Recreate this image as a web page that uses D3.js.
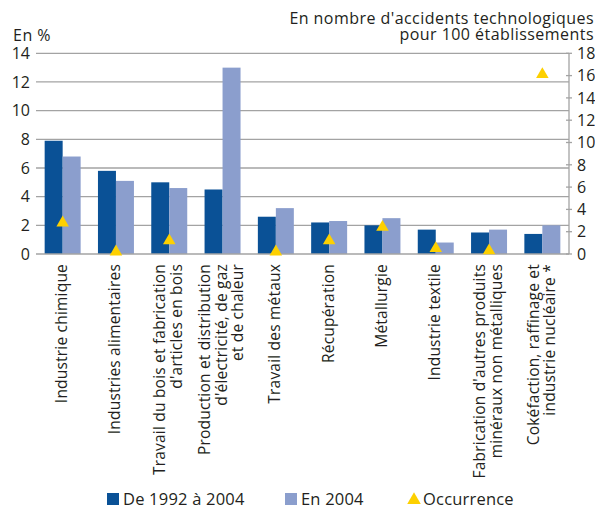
<!DOCTYPE html>
<html>
<head>
<meta charset="utf-8">
<script src="https://cdn.jsdelivr.net/npm/d3@7"></script>
<style>
  html, body { margin: 0; padding: 0; background: #fff; }
  svg text { font-family: "Open Sans", sans-serif; fill: #231f20; }
</style>
</head>
<body>
<div id="chart"></div>
<script>
// Catégories (retours à la ligne marqués par \n)
const categories = [
  "Industrie chimique",
  "Industries alimentaires",
  "Travail du bois et fabrication\nd'articles en bois",
  "Production et distribution\nd'électricité, de gaz\net de chaleur",
  "Travail des métaux",
  "Récupération",
  "Métallurgie",
  "Industrie textile",
  "Fabrication d'autres produits\nminéraux non métalliques",
  "Cokéfaction, raffinage et\nindustrie nucléaire *"
];
const part1992_2004 = [7.9, 5.8, 5.0, 4.5, 2.6, 2.2, 2.0, 1.7, 1.5, 1.4];
const part2004      = [6.8, 5.1, 4.6, 13.0, 3.2, 2.3, 2.5, 0.8, 1.7, 2.0];
const occurrence    = [2.8, 0.2, 1.2, null, 0.2, 1.2, 2.4, 0.5, 0.3, 16.1];
const leftTicks  = [0, 2, 4, 6, 8, 10, 12, 14];
const rightTicks = [0, 2, 4, 6, 8, 10, 12, 14, 16, 18];
const seriesNames = ["De 1992 à 2004", "En 2004", "Occurrence"];

const W = 595, H = 509;
const C_DARK = "#0a5196", C_LIGHT = "#8b9ecd", C_TRI = "#fdd000", C_GRID = "#a3a3a3";

const svg = d3.select("#chart").append("svg")
  .attr("width", W).attr("height", H);

const x = d3.scaleBand().domain(d3.range(categories.length))
  .range([36, 569]).paddingInner(0.325).paddingOuter(0.1625);
const x1 = d3.scaleBand().domain([0, 1]).range([0, x.bandwidth()]);
const yL = d3.scaleLinear().domain([0, 14]).range([254, 53.3]);
const yR = d3.scaleLinear().domain([0, 18]).range([254, 53.3]);

// grille
svg.append("g").selectAll("line").data(leftTicks.filter(d => d > 0)).join("line")
  .attr("x1", 36).attr("x2", 569)
  .attr("y1", d => yL(d)).attr("y2", d => yL(d))
  .attr("stroke", C_GRID).attr("stroke-width", 1.3);

// axe gauche (étiquettes)
svg.append("g").selectAll("text").data(leftTicks).join("text")
  .attr("x", 30).attr("y", d => yL(d)).attr("dy", "0.36em")
  .attr("text-anchor", "end").attr("font-size", 16)
  .text(d => d);

svg.append("text").attr("x", 13).attr("y", 41).attr("font-size", 16)
  .attr("letter-spacing", 0.5).text("En %");

// barres
const groups = svg.append("g").selectAll("g").data(categories).join("g")
  .attr("transform", (d, i) => `translate(${x(i)},0)`);
groups.append("rect")
  .attr("x", x1(0)).attr("width", x1.bandwidth())
  .attr("y", (d, i) => yL(part1992_2004[i]))
  .attr("height", (d, i) => yL(0) - yL(part1992_2004[i]))
  .attr("fill", C_DARK);
groups.append("rect")
  .attr("x", x1(1)).attr("width", x1.bandwidth())
  .attr("y", (d, i) => yL(part2004[i]))
  .attr("height", (d, i) => yL(0) - yL(part2004[i]))
  .attr("fill", C_LIGHT);

// axe des catégories
svg.append("line").attr("x1", 36).attr("x2", 569).attr("y1", 254).attr("y2", 254)
  .attr("stroke", C_GRID).attr("stroke-width", 1.3);

// axe droit
const gr = svg.append("g");
gr.append("line").attr("x1", 569).attr("x2", 569).attr("y1", yR(18)).attr("y2", yR(0))
  .attr("stroke", C_GRID).attr("stroke-width", 1.3);
gr.selectAll("line.tk").data(rightTicks).join("line").attr("class", "tk")
  .attr("x1", 566).attr("x2", 572).attr("y1", d => yR(d)).attr("y2", d => yR(d))
  .attr("stroke", C_GRID).attr("stroke-width", 1.3);
gr.selectAll("text").data(rightTicks).join("text")
  .attr("x", 577).attr("y", d => yR(d)).attr("dy", "0.36em")
  .attr("font-size", 16).text(d => d);

svg.append("text").attr("x", 594).attr("y", 24).attr("text-anchor", "end")
  .attr("font-size", 16).attr("letter-spacing", 0.45)
  .text("En nombre d'accidents technologiques");
svg.append("text").attr("x", 594).attr("y", 40).attr("text-anchor", "end")
  .attr("font-size", 16).attr("letter-spacing", 0.45)
  .text("pour 100 établissements");

// triangles d'occurrence
const tri = d3.symbol().type(d3.symbolTriangle).size(68);
svg.append("g").selectAll("path")
  .data(occurrence.map((v, i) => ({ v, i })).filter(d => d.v != null)).join("path")
  .attr("d", tri)
  .attr("transform", d => `translate(${x(d.i) + x.bandwidth() / 2},${yR(d.v)})`)
  .attr("fill", C_TRI);

// étiquettes de catégories (pivotées)
const lh = 16.5;
svg.append("g").selectAll("text").data(categories).join("text")
  .attr("transform", (d, i) => `translate(${x(i) + x.bandwidth() / 2 - 1},264) rotate(-90)`)
  .attr("text-anchor", "end").attr("font-size", 15.5).attr("letter-spacing", 0.2)
  .each(function (d) {
    const lines = d.split("\n");
    const t = d3.select(this);
    lines.forEach((ln, k) => {
      t.append("tspan").attr("x", 0)
        .attr("y", (k - (lines.length - 1) / 2) * lh)
        .attr("dy", "0.35em").text(ln);
    });
  });

// légende
const lg = svg.append("g").attr("font-size", 16.5).attr("letter-spacing", 0.2);
lg.append("rect").attr("x", 107).attr("y", 493).attr("width", 12).attr("height", 12).attr("fill", C_DARK);
lg.append("text").attr("x", 123).attr("y", 505).text(seriesNames[0]);
lg.append("rect").attr("x", 285).attr("y", 493).attr("width", 12).attr("height", 12).attr("fill", C_LIGHT);
lg.append("text").attr("x", 301).attr("y", 505).text(seriesNames[1]);
lg.append("path").attr("d", d3.symbol().type(d3.symbolTriangle).size(80))
  .attr("transform", "translate(414,500)").attr("fill", C_TRI);
lg.append("text").attr("x", 423).attr("y", 505).text(seriesNames[2]);
</script>
</body>
</html>
